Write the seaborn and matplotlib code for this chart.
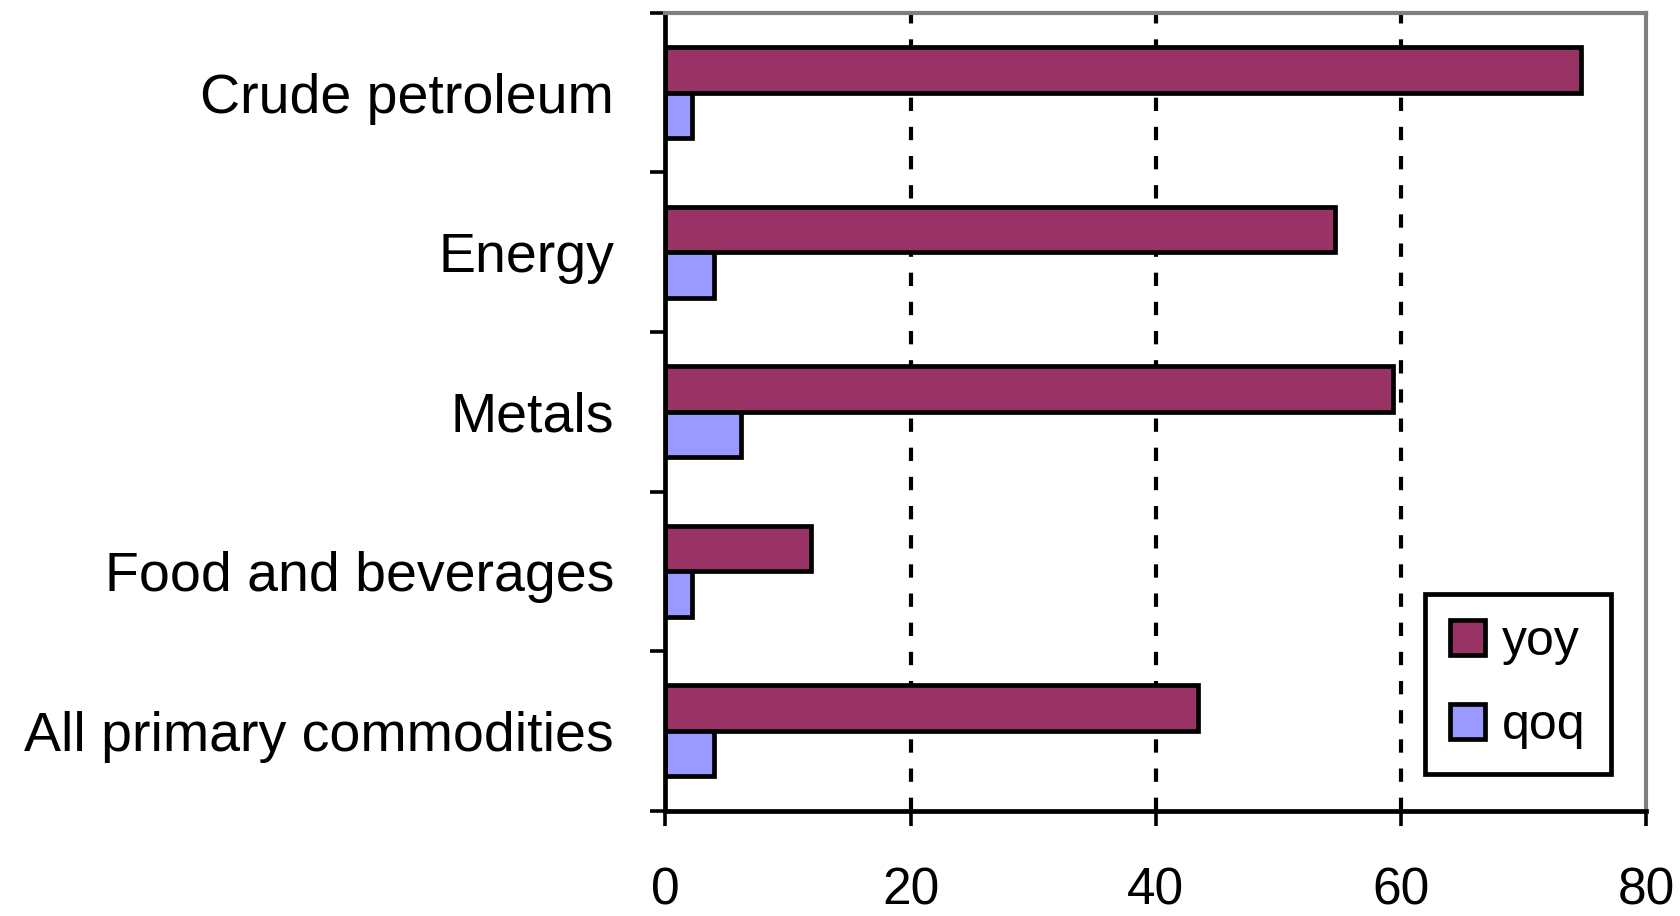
import matplotlib
matplotlib.use("Agg")
import matplotlib.pyplot as plt
from matplotlib.patches import Patch
import numpy as np
import pandas as pd
import seaborn as sns

categories = ["Crude petroleum", "Energy", "Metals", "Food and beverages", "All primary commodities"]
series_names = ["yoy", "qoq"]
yoy = [74.7, 54.6, 59.3, 11.9, 43.4]
qoq = [2.2, 4.0, 6.2, 2.2, 4.0]
x_ticks = [0, 20, 40, 60, 80]
colors = ["#993366", "#9999FF"]

df = pd.DataFrame({
    "category": categories * 2,
    "series": [series_names[0]] * len(categories) + [series_names[1]] * len(categories),
    "value": yoy + qoq,
})

sns.set_style("white")
plt.rcParams["font.family"] = ["Liberation Sans", "DejaVu Sans"]
plt.rcParams["text.color"] = "black"

fig, ax = plt.subplots(figsize=(16.8, 9.16), dpi=100)
fig.subplots_adjust(left=0.396, right=0.980, top=0.986, bottom=0.115)

sns.barplot(data=df, y="category", x="value", hue="series", order=categories,
            hue_order=series_names, palette=colors, orient="h", width=0.57,
            edgecolor="black", linewidth=3.4, saturation=1, ax=ax, legend=False)

ax.set_xlim(0, 80)
ax.set_ylim(len(categories) - 0.5, -0.5)
ax.set_xlabel("")
ax.set_ylabel("")

# spines
for s in ["left", "bottom"]:
    ax.spines[s].set_color("black")
    ax.spines[s].set_linewidth(3.4)
for s in ["top", "right"]:
    ax.spines[s].set_color("#808080")
    ax.spines[s].set_linewidth(3)

# x ticks
ax.set_xticks(x_ticks)
ax.set_xticklabels([str(v) for v in x_ticks])
ax.tick_params(axis="x", direction="out", length=11, width=2.6, color="black",
               labelcolor="black", labelsize=37, pad=29, bottom=True)

# y ticks: labels at centres, tick marks at boundaries
ax.set_yticks(range(len(categories)))
ax.set_yticklabels(categories)
ax.tick_params(axis="y", which="major", length=0, labelsize=40, pad=37,
               labelcolor="black", left=True)
ax.set_yticks(np.arange(-0.5, len(categories), 1.0), minor=True)
ax.tick_params(axis="y", which="minor", direction="out", length=11, width=2.6,
               color="black", left=True)

# dashed gridlines
ax.set_axisbelow(True)
ax.xaxis.grid(True, color="black", linestyle=(0, (3.2, 3.8)), linewidth=3)
gl = ax.get_xgridlines()
gl[0].set_visible(False)
gl[-1].set_visible(False)

handles = [Patch(facecolor=c, edgecolor="black", linewidth=3.4) for c in colors]
leg = ax.legend(handles, series_names, loc="lower left", bbox_to_anchor=(0.774, 0.046),
                borderaxespad=0, fancybox=False, edgecolor="black", framealpha=1,
                fontsize=36, handlelength=0.7, handleheight=0.7, labelspacing=0.75,
                handletextpad=0.35, borderpad=0.5, labelcolor="black")
leg.get_frame().set_linewidth(3.4)

fig.savefig("out.png", dpi=100)
